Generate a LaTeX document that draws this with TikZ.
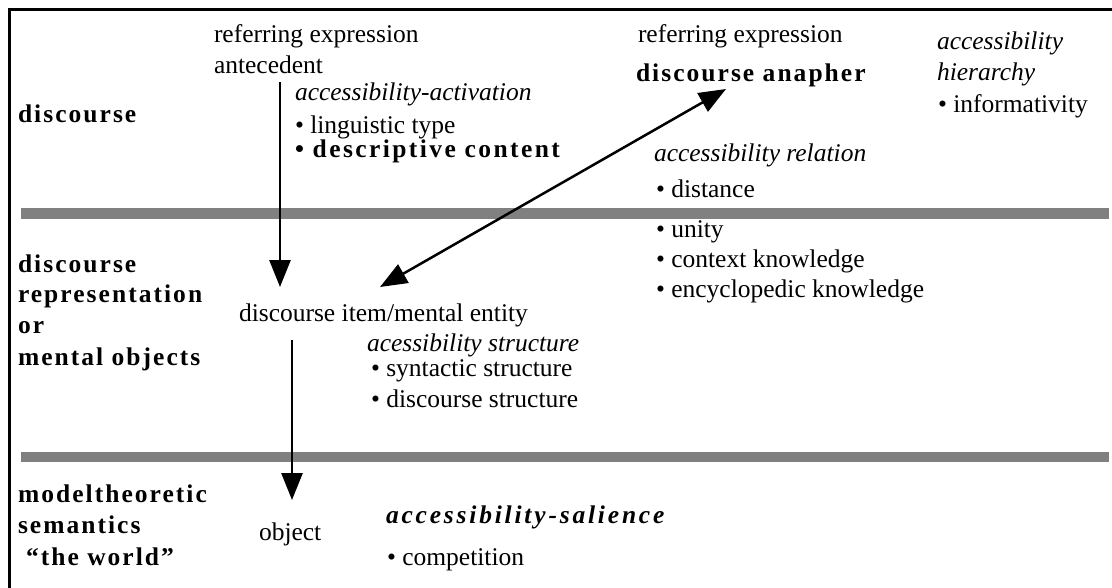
\documentclass[tikz,border=0pt]{standalone}
\usepackage{fontspec}
\setmainfont{Liberation Serif}
\newfontfamily\spacedfont{Liberation Serif}[LetterSpace=8]
\newfontfamily\midfont{Liberation Serif}[LetterSpace=9.5]
\newfontfamily\widefont{Liberation Serif}[LetterSpace=11]
\usetikzlibrary{arrows.meta}
\definecolor{bargray}{RGB}{128,128,128}
\begin{document}
\begin{tikzpicture}[x=1pt,y=-1pt,
  txt/.style={anchor=base west,inner sep=0pt,outer sep=0pt,font=\fontsize{25.5}{31}\selectfont},
  ittxt/.style={txt,font=\fontsize{25.5}{31}\selectfont\itshape},
  bldtxt/.style={txt,font=\spacedfont\fontsize{25.5}{31}\selectfont\bfseries},
  midtxt/.style={txt,font=\midfont\fontsize{25.5}{31}\selectfont\bfseries},
  bittxt/.style={txt,font=\widefont\fontsize{25.5}{31}\selectfont\bfseries\itshape},
  arr/.style={line width=2.7pt,-{Triangle[length=27pt,width=21pt]}},
  darr/.style={line width=2.5pt,{Triangle[length=27pt,width=21pt]}-{Triangle[length=27pt,width=21pt]}},
  bar/.style={fill=bargray,draw=none},
  frame/.style={line width=2.7pt,draw=black}]
\useasboundingbox (0,0) rectangle (1112,587);
% frame
\draw[frame] (9.7,590) -- (9.7,9.7) -- (1115,9.7);
% grey separators
\fill[bar] (21,208) rectangle (1109,219);
\fill[bar] (21,452) rectangle (1109,462);
% level labels
\node[bldtxt] (lvl1) at (18,122) {discourse};
\node[bldtxt] (lvl2a) at (18,272) {discourse};
\node[bldtxt] (lvl2b) at (18,302) {representation};
\node[bldtxt] (lvl2c) at (18,333) {or};
\node[bldtxt] (lvl2d) at (18,365) {mental objects};
\node[bldtxt] (lvl3a) at (18,502) {modeltheoretic};
\node[bldtxt] (lvl3b) at (18,533) {semantics};
\node[bldtxt] (lvl3c) at (26,565) {“the world”};
% discourse level, left
\node[txt] (ref1) at (214,42) {referring expression};
\node[txt] (ante) at (214,73) {antecedent};
\node[ittxt] (actact) at (295,100) {accessibility-activation};
\node[txt] (ling) at (295,133) {• linguistic type};
\node[midtxt] (desc) at (295,157) {• descriptive content};
% discourse level, right
\node[txt] (ref2) at (638,42) {referring expression};
\node[bldtxt] (anaph) at (636,81) {discourse anapher};
\node[ittxt] (hier1) at (937,49) {accessibility};
\node[ittxt] (hier2) at (937,80) {hierarchy};
\node[txt] (inform) at (938,112) {• informativity};
\node[ittxt] (rel) at (654,161) {accessibility relation};
\node[txt] (dist) at (656,197) {• distance};
\node[txt] (unity) at (656,237) {• unity};
\node[txt] (ctx) at (656,267) {• context knowledge};
\node[txt] (ency) at (656,297) {• encyclopedic knowledge};
% representation level
\node[txt] (item) at (239,321) {discourse item/mental entity};
\node[ittxt] (struct) at (367,351) {acessibility structure};
\node[txt] (synt) at (371,376) {• syntactic structure};
\node[txt] (dstr) at (371,407) {• discourse structure};
% world level
\node[txt] (obj) at (259,540) {object};
\node[bittxt] (sal) at (386,523) {accessibility-salience};
\node[txt] (comp) at (387,565) {• competition};
% arrow end points
\coordinate (a1s) at (280,82);
\coordinate (a1e) at (280,287);
\coordinate (a2s) at (292,340);
\coordinate (a2e) at (292,500);
\coordinate (d1) at (380,287);
\coordinate (d2) at (726,89);
\draw[arr] (a1s) -- (a1e);
\draw[arr] (a2s) -- (a2e);
\draw[darr] (d1) -- (d2);
\end{tikzpicture}
\end{document}
